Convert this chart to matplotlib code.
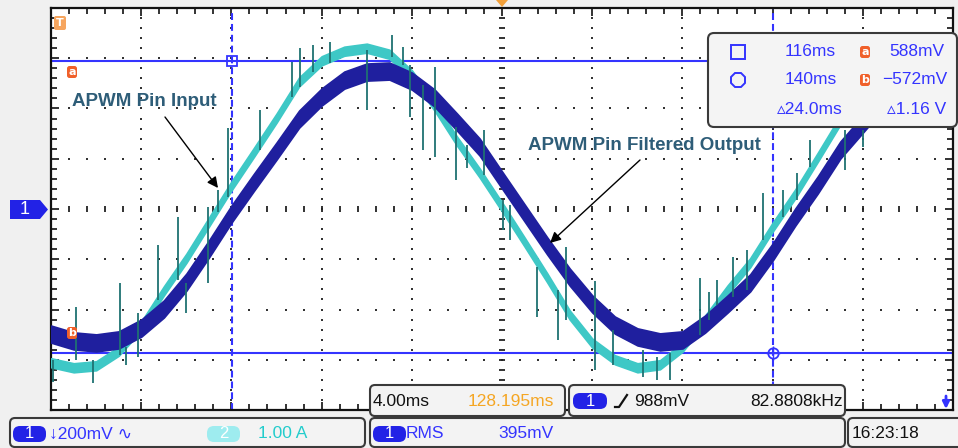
import matplotlib.pyplot as plt
import numpy as np
from matplotlib.patches import FancyBboxPatch, Polygon
from matplotlib.transforms import Affine2D

# scope setup (status bar)
t_centre = 128.195   # ms at screen centre
t_div = 4.0          # ms/div
ch1_div = 200.0      # mV/div
ch2_div = 1.0        # A/div

# sample times, ms
t_ms = [108.2, 109.2, 110.2, 111.2, 112.2, 113.2, 114.2, 115.2, 116.2, 117.2,
        118.2, 119.2, 120.2, 121.2, 122.2, 123.2, 124.2, 125.2, 126.2, 127.2,
        128.2, 129.2, 130.2, 131.2, 132.2, 133.2, 134.2, 135.2, 136.2, 137.2,
        138.2, 139.2, 140.2, 141.2, 142.2, 143.2, 144.2, 145.2, 146.2, 147.2,
        148.2]

# ch1 - APWM pin filtered output (mV)
ch1_mv = [-498, -525, -533, -521, -474, -398, -291, -159, -20, 107,
          231, 358, 446, 513, 545, 549, 509, 442, 346, 247,
          115, -16, -147, -271, -378, -462, -509, -529, -521, -458,
          -378, -294, -171, -32, 96, 235, 338, 442, 505, 545,
          553]

# ch2 - APWM pin input (A)
ch2_a = [-3.06, -3.16, -3.12, -2.83, -2.33, -1.63, -0.98, -0.26, 0.46, 1.13,
         1.81, 2.53, 2.95, 3.14, 3.20, 3.08, 2.67, 2.05, 1.35, 0.72,
         0.04, -0.66, -1.37, -2.11, -2.67, -3.00, -3.16, -3.10, -2.75, -2.21,
         -1.61, -1.07, -0.36, 0.30, 1.03, 1.77, 2.27, 2.73, 3.04, 3.20,
         3.20]

# switching spikes on ch2 (time ms, low A, high A)
spike_t = [108.28, 109.30, 110.06, 111.25, 111.52, 112.05, 112.94, 113.83, 114.18, 115.16,
           115.60, 116.04, 117.46, 118.88, 119.24, 119.81, 120.57, 122.21, 123.32, 123.80,
           124.12, 124.69, 125.22, 126.16, 126.64, 127.40, 128.24, 128.55, 129.75, 130.68,
           131.03, 132.30, 133.12, 134.45, 135.07, 135.65, 136.98, 137.38, 137.73, 138.44,
           139.06, 139.77, 140.66, 141.28, 141.85, 143.41, 144.20]
spike_lo = [-3.44, -3.00, -3.46, -2.91, -3.10, -2.95, -1.81, -1.41, -2.07, -1.47,
            -0.06, 0.24, 1.17, 2.23, 2.43, 2.73, 2.91, 1.97, 3.02, 2.87,
            1.83, 1.17, 1.03, 0.58, 0.82, 0.68, -0.42, -0.62, -2.15, -2.61,
            -2.21, -3.20, -3.10, -3.34, -3.40, -3.40, -2.51, -2.21, -1.91, -1.75,
            -1.61, -0.62, -0.16, 0.18, 0.84, 0.78, 1.23]
spike_hi = [-3.00, -1.95, -3.00, -1.47, -2.75, -2.07, -0.72, -0.16, -1.47, 0.04,
            0.38, 1.61, 1.97, 2.93, 3.20, 3.26, 3.32, 3.16, 3.46, 3.22,
            2.87, 2.47, 2.83, 1.63, 1.27, 1.57, 0.18, 0.08, -1.15, -1.61,
            -0.76, -1.43, -2.41, -2.81, -2.95, -2.87, -1.37, -1.65, -1.41, -0.96,
            -0.82, 0.32, 0.38, 0.72, 1.37, 1.57, 1.57]

# cursors
cur_t = [116.2, 140.2]
cur_mv = [588, -572]

BLUE = '#3434ff'
DARK = '#1f1f9e'
CYAN = '#3ec8c6'
TEAL = '#1f7272'
ORANGE = '#f0602a'

ui_font = ['Liberation Sans', 'DejaVu Sans']

fig = plt.figure(figsize=(9.58, 4.48), dpi=100, facecolor='#f0f0f0')
ax = fig.add_axes([51 / 958, 38 / 448, 902 / 958, 402 / 448])
ax.set_facecolor('white')

# graticule
x_major = t_centre + np.arange(-5, 6) * t_div
x_minor = t_centre + np.arange(-25, 26) * t_div / 5
y_major = np.arange(-4, 5) * ch1_div
y_minor = np.arange(-20, 21) * ch1_div / 5
ax.set_xticks(x_major)
ax.set_xticks(x_minor, minor=True)
ax.set_yticks(y_major)
ax.set_yticks(y_minor, minor=True)
ax.tick_params(which='both', direction='in', top=True, right=True,
               labelbottom=False, labelleft=False, color='#111', width=1.2)
ax.tick_params(which='major', length=6)
ax.tick_params(which='minor', length=4)
for s in ax.spines.values():
    s.set_linewidth(1.6)
    s.set_color('#111')

gx = x_major[1:-1][x_major[1:-1] != x_major[5]]
gy = y_major[1:-1][y_major[1:-1] != 0]
X, Y = np.meshgrid(gx, y_minor)
ax.scatter(X, Y, s=2.5, marker='s', c='#333', lw=0, zorder=1)
X, Y = np.meshgrid(x_minor, gy)
ax.scatter(X, Y, s=2.5, marker='s', c='#333', lw=0, zorder=1)
ax.scatter(x_minor, np.zeros_like(x_minor), marker='|', s=22, c='#222', lw=1.3, zorder=1)
ax.scatter(np.full_like(y_minor, t_centre), y_minor, marker='_', s=22, c='#222', lw=1.3, zorder=1)

# cursors
for v in cur_mv:
    ax.axhline(v, color=BLUE, lw=1.5, zorder=2)
for tt in cur_t:
    ax.axvline(tt, color=BLUE, lw=1.5, ls=(0, (3.3, 1.9)), zorder=2)
ax.plot(cur_t[0], cur_mv[0], marker='s', ms=7.5, mfc='none', mec=BLUE, mew=1.3, zorder=6)
ax.plot(cur_t[1], cur_mv[1], marker='o', ms=7.5, mfc='none', mec=BLUE, mew=1.3, zorder=6)
ax.plot(cur_t[1], cur_mv[1], marker='+', ms=10, mec=BLUE, mew=1.0, zorder=6)

# traces
trans2 = Affine2D().scale(1, ch1_div / ch2_div) + ax.transData
ch1 = np.array(ch1_mv)
ch2 = np.array(ch2_a)
band1 = 34     # mV, half-height of the noisy trace
band2 = 0.09   # A
ax.fill_between(t_ms, ch2 - band2, ch2 + band2, color=CYAN, lw=1.2, ec=CYAN,
                transform=trans2, zorder=3)
ax.fill_between(t_ms, ch1 - band1, ch1 + band1, color=DARK, lw=1.2, ec=DARK, zorder=4)
ax.vlines(spike_t, spike_lo, spike_hi, colors=TEAL, lw=1.3, transform=trans2, zorder=5)

ax.set_xlim(x_major[0], x_major[-1])
ax.set_ylim(y_major[0], y_major[-1])

# screen overlay in pixel units
ui = fig.add_axes([0, 0, 1, 1], facecolor='none')
ui.set_zorder(5)
ui.set_xlim(0, 958)
ui.set_ylim(448, 0)
ui.axis('off')


def panel(x0, y0, x1, y1, fc='#f3f3f3', r=5):
    ui.add_patch(FancyBboxPatch((x0, y0), x1 - x0, y1 - y0,
                                boxstyle='round,pad=0,rounding_size=%g' % r,
                                fc=fc, ec='#3a3a3a', lw=1.5))


def pill(x0, x1, yc, label, fc):
    ui.add_patch(FancyBboxPatch((x0, yc - 8), x1 - x0, 16,
                                boxstyle='round,pad=0,rounding_size=7',
                                fc=fc, ec='none'))
    ui.text((x0 + x1) / 2, yc, label, color='white', fontsize=12,
            ha='center', va='center', family=ui_font)


def badge(xc, yc, label):
    ui.add_patch(FancyBboxPatch((xc - 5, yc - 6), 10, 12,
                                boxstyle='round,pad=0,rounding_size=2.5',
                                fc=ORANGE, ec='none'))
    ui.text(xc, yc, label, color='white', fontsize=8, fontweight='bold',
            ha='center', va='center')


def label(x, y, s, color, ha='left', size=12.5):
    ui.text(x, y, s, color=color, fontsize=size, ha=ha, va='center', family=ui_font)


# channel / trigger markers
ui.add_patch(Polygon([(10, 200), (40, 200), (48, 209.5), (40, 219), (10, 219)],
                     fc='#2222e6', ec='none'))
ui.text(25, 209.5, '1', color='white', fontsize=13, ha='center', va='center', family=ui_font)
ui.add_patch(FancyBboxPatch((54, 16), 12, 14, boxstyle='round,pad=0,rounding_size=2',
                            fc='#f6a55e', ec='none'))
ui.text(60, 23, 'T', color='white', fontsize=8, fontweight='bold', ha='center', va='center')
ui.add_patch(Polygon([(496, 0), (508, 0), (502, 7)], fc='#f2a03a', ec='none'))
ui.annotate('', xy=(946, 409), xytext=(946, 396),
            arrowprops=dict(arrowstyle='-|>', color=BLUE, lw=2, mutation_scale=10,
                            shrinkA=0, shrinkB=0))
badge(72, 72, 'a')
badge(72, 333, 'b')

# annotations
ui.text(72, 102, 'APWM Pin Input', fontsize=13.5, fontweight='bold', color='#2e5d78',
        family=ui_font, va='center')
ui.text(528, 145, 'APWM Pin Filtered Output', fontsize=13.5, fontweight='bold',
        color='#2e5d78', family=ui_font, va='center')
arrow = dict(arrowstyle='-|>', color='black', lw=1.0, mutation_scale=16, shrinkA=0, shrinkB=0)
ui.annotate('', xy=(218, 188), xytext=(165, 117), arrowprops=arrow)
ui.annotate('', xy=(550, 243), xytext=(640, 160), arrowprops=arrow)

# cursor readout box
panel(708, 33, 957, 127, fc='#f4f4f4', r=6)
ui.plot(738, 52, marker='s', ms=10, mfc='none', mec=BLUE, mew=1.4)
ui.plot(738, 80, marker='8', ms=11, mfc='none', mec=BLUE, mew=1.4)
label(785, 52, '116ms', BLUE)
label(785, 80, '140ms', BLUE)
label(777, 110, '\u25b524.0ms', BLUE)
badge(865, 52, 'a')
badge(865, 80, 'b')
label(889, 52, '588mV', BLUE)
label(882, 80, '\u2212572mV', BLUE)
label(887, 110, '\u25b51.16 V', BLUE)

# status bar
panel(370, 385, 565, 416)
label(373, 401, '4.00ms', '#111')
label(468, 401, '128.195ms', '#f5a623')
panel(569, 385, 845, 416)
pill(573, 607, 401, '1', '#2222e6')
ui.plot([615, 619, 627], [407, 407, 395], color='#111', lw=1.6)
label(634, 401, '988mV', '#111')
label(843, 401, '82.8808kHz', '#111', ha='right')

panel(10, 418, 365, 447)
pill(13, 46, 434, '1', '#2222e6')
label(49, 434, '\u2193200mV \u223f', BLUE)
pill(207, 240, 434, '2', '#9eecef')
label(258, 434, '1.00 A', '#22cccc')
panel(370, 418, 845, 447)
pill(373, 406, 434, '1', '#2222e6')
label(406, 434, 'RMS', BLUE)
label(498, 434, '395mV', BLUE)
panel(848, 418, 965, 447)
label(852, 434, '16:23:18', '#111')

fig.savefig('out.png', dpi=100, facecolor=fig.get_facecolor())
